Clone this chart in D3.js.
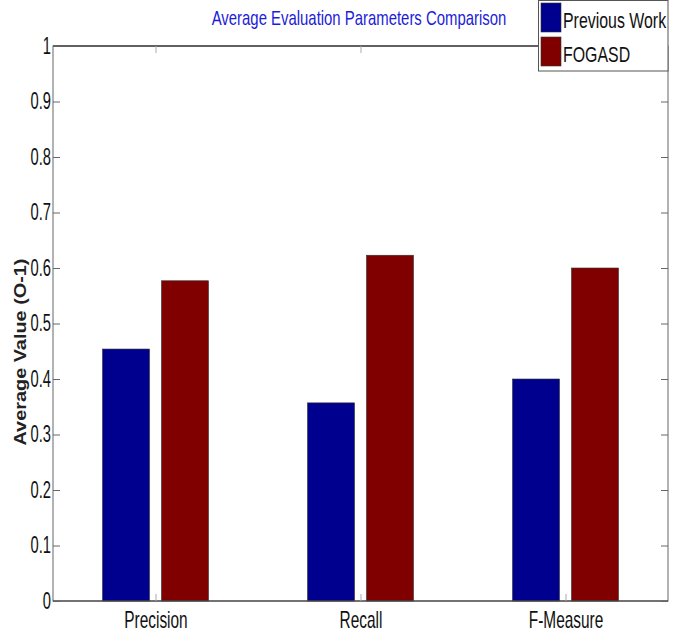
<!DOCTYPE html>
<html>
<head>
<meta charset="utf-8">
<script src="https://cdn.jsdelivr.net/npm/d3@7"></script>
<style>
  html, body { margin: 0; padding: 0; background: #fff; }
  svg { display: block; }
  text { font-family: "Liberation Sans", Arial, sans-serif; }
</style>
</head>
<body>
<svg id="chart" width="679" height="634"></svg>
<script>
// Average evaluation metrics for the two approaches
const categories = ["Precision", "Recall", "F-Measure"];
const seriesNames = ["Previous Work", "FOGASD"];
const previousWork = [0.454, 0.357, 0.400];
const fogasd = [0.577, 0.623, 0.600];
const yTicks = [0, 0.1, 0.2, 0.3, 0.4, 0.5, 0.6, 0.7, 0.8, 0.9, 1];
const seriesColors = ["#00008f", "#800000"];

const svg = d3.select("#chart");
const plotLeft = 53, plotRight = 668, plotTop = 46, plotBottom = 601;

// squeeze text horizontally for a narrow, tall typeface look:
// scale around the text's own anchor point
function condense(sel, factor) {
  sel.each(function () {
    const t = d3.select(this);
    const x0 = +(t.attr("x") || 0);
    const y0 = +(t.attr("y") || 0);
    t.attr("x", 0).attr("y", 0)
      .attr("transform", `translate(${x0},${y0}) scale(${factor},1)`);
  });
}

// categories sit at 1..3 on a linear axis spanning 0.5..3.5
const x = d3.scaleLinear().domain([0.5, 3.5]).range([plotLeft, plotRight]);
const y = d3.scaleLinear().domain([0, 1]).range([plotBottom, plotTop]);
const unit = x(2) - x(1);
const inner = d3.scaleBand().domain(seriesNames)
  .range([-0.2585 * unit, 0.2585 * unit]).paddingInner(0.203).paddingOuter(0);

const rows = categories.map((c, i) => ({
  cat: c, pos: i + 1,
  vals: [previousWork[i], fogasd[i]]
}));

// bars
const groups = svg.append("g").selectAll("g").data(rows).join("g")
  .attr("transform", d => `translate(${x(d.pos)},0)`);
groups.selectAll("rect")
  .data(d => d.vals.map((v, k) => ({ v, name: seriesNames[k], k })))
  .join("rect")
  .attr("x", d => inner(d.name))
  .attr("width", inner.bandwidth())
  .attr("y", d => y(d.v))
  .attr("height", d => y(0) - y(d.v))
  .attr("fill", d => seriesColors[d.k])
  .attr("stroke", "#333")
  .attr("stroke-width", 0.6);

// frame
svg.append("rect")
  .attr("x", plotLeft).attr("y", plotTop)
  .attr("width", plotRight - plotLeft).attr("height", plotBottom - plotTop)
  .attr("fill", "none").attr("stroke", "#666").attr("stroke-width", 1);
svg.append("line").attr("x1", plotLeft).attr("x2", plotRight).attr("y1", plotTop).attr("y2", plotTop)
  .attr("stroke", "#111").attr("stroke-width", 1.2);
svg.append("line").attr("x1", plotLeft).attr("x2", plotRight).attr("y1", plotBottom).attr("y2", plotBottom)
  .attr("stroke", "#333").attr("stroke-width", 1.2);

// left axis with inward ticks
const yAxis = d3.axisLeft(y).tickValues(yTicks).tickSize(-7).tickPadding(2)
  .tickFormat(d => d === 0 || d === 1 ? d3.format("d")(d) : d3.format(".1f")(d));
const gy = svg.append("g").attr("transform", `translate(${plotLeft},0)`).call(yAxis);
gy.select(".domain").remove();
gy.selectAll(".tick line").attr("stroke", "#666");
gy.selectAll(".tick text").attr("font-family", null).attr("font-size", 23).attr("fill", "#111")
  .call(condense, 0.64);

// right-side ticks
const gyr = svg.append("g").attr("transform", `translate(${plotRight},0)`)
  .call(d3.axisRight(y).tickValues(yTicks).tickSize(-7).tickFormat(""));
gyr.select(".domain").remove();
gyr.selectAll(".tick line").attr("stroke", "#666");

// bottom axis with category labels
const xAxis = d3.axisBottom(x).tickValues(rows.map(r => r.pos)).tickSize(-7).tickPadding(11)
  .tickFormat((d, i) => categories[i]);
const gx = svg.append("g").attr("transform", `translate(0,${plotBottom})`).call(xAxis);
gx.select(".domain").remove();
gx.selectAll(".tick line").attr("stroke", "#aaa");
gx.selectAll(".tick text").attr("font-family", null).attr("font-size", 23).attr("fill", "#111")
  .call(condense, 0.67);

const gxt = svg.append("g").attr("transform", `translate(0,${plotTop})`)
  .call(d3.axisTop(x).tickValues(rows.map(r => r.pos)).tickSize(-7).tickFormat(""));
gxt.select(".domain").remove();
gxt.selectAll(".tick line").attr("stroke", "#aaa");

// title
svg.append("text")
  .attr("x", 359).attr("y", 25).attr("text-anchor", "middle")
  .attr("font-size", 21).attr("fill", "#1c1cd8")
  .text("Average Evaluation Parameters Comparison")
  .call(condense, 0.71);

// y axis label
svg.append("text")
  .attr("transform", `translate(26,352) rotate(-90)`)
  .attr("text-anchor", "middle")
  .attr("font-weight", "bold").attr("font-size", 17).attr("fill", "#222")
  .text("Average Value (O-1)")
  .attr("textLength", 187).attr("lengthAdjust", "spacingAndGlyphs");

// legend
const lg = svg.append("g");
lg.append("rect").attr("x", 538.5).attr("y", 0.5).attr("width", 129.5).attr("height", 70.5)
  .attr("fill", "#fff").attr("stroke", "#555").attr("stroke-width", 1);
seriesNames.forEach((name, k) => {
  const yy = 3 + k * 34;
  lg.append("rect").attr("x", 541).attr("y", yy).attr("width", 20).attr("height", 29)
    .attr("fill", seriesColors[k]).attr("stroke", "#333").attr("stroke-width", 0.6);
  lg.append("text")
    .attr("x", 563).attr("y", yy + 25)
    .attr("font-size", 21.5).attr("fill", "#111").text(name)
    .call(condense, 0.74);
});
</script>
</body>
</html>
